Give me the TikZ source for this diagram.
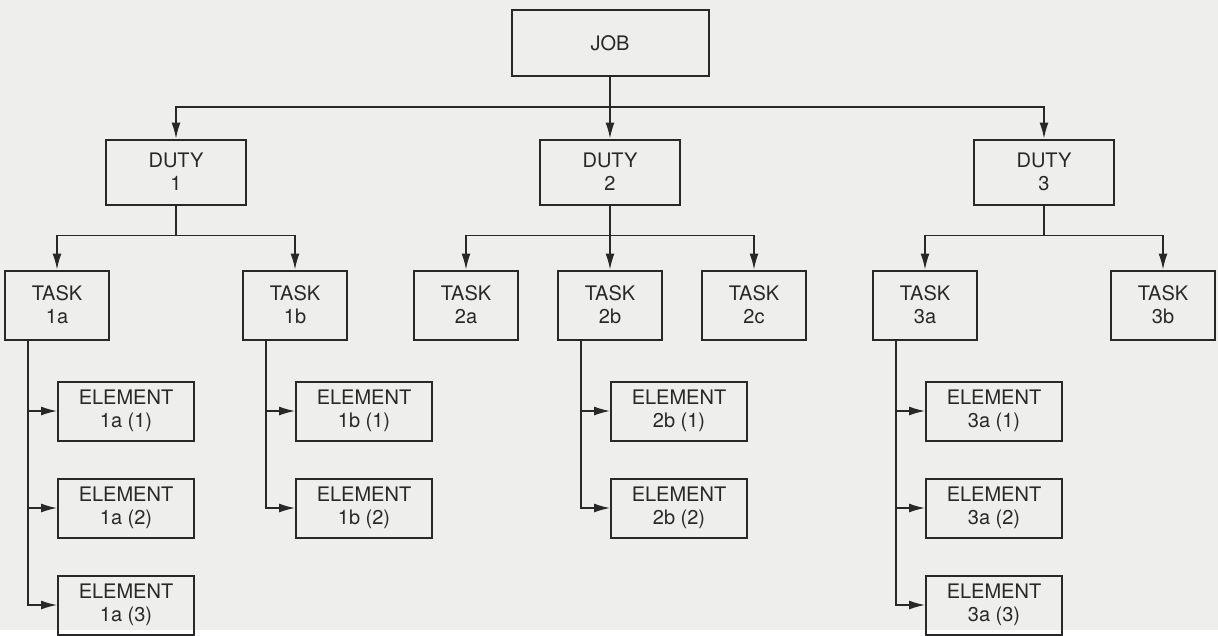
\documentclass[tikz,border=0pt]{standalone}
\usepackage{fontspec}
\setmainfont{TeX Gyre Heros}
\usepackage{xcolor}
\usepackage{tikz}
\usetikzlibrary{positioning,arrows.meta}

\definecolor{paper}{RGB}{238,238,236}
\definecolor{ink}{RGB}{40,40,40}

\begin{document}
\begin{tikzpicture}[
    x=1pt, y=1pt,
    every node/.style={draw=ink, line width=2pt, align=center, text=ink, inner sep=0pt, font=\fontsize{20}{23}\selectfont},
    jobbox/.style={minimum width=197pt, minimum height=66pt},
    dutybox/.style={minimum width=140pt, minimum height=65pt},
    taskbox/.style={minimum width=104pt, minimum height=69pt},
    elementbox/.style={minimum width=136pt, minimum height=59pt},
    link/.style={draw=ink, line width=1.4pt, -{Latex[length=16pt, width=9pt]}},
    edge from parent/.style={link},
    edge from parent path={(\tikzparentnode.south) -- ++(0,-30) -| (\tikzchildnode.north)},
    level 1/.style={level distance=129pt, sibling distance=434pt},
    level 2/.style={level distance=133pt, sibling distance=238pt}
]
\fill[paper] (0,0) rectangle (1218,-630);

% job -> duties -> tasks
\node[jobbox] (job) at (610,-43) {JOB}
    child { node[dutybox] (d1) {DUTY\\1}
        child { node[taskbox] (t1a) {TASK\\1a} }
        child { node[taskbox] (t1b) {TASK\\1b} }
    }
    child { node[dutybox] (d2) {DUTY\\2}
        child[sibling distance=144pt] { node[taskbox] (t2a) {TASK\\2a} }
        child[sibling distance=144pt] { node[taskbox] (t2b) {TASK\\2b} }
        child[sibling distance=144pt] { node[taskbox] (t2c) {TASK\\2c} }
    }
    child { node[dutybox] (d3) {DUTY\\3}
        child { node[taskbox] (t3a) {TASK\\3a} }
        child { node[taskbox] (t3b) {TASK\\3b} }
    };

% elements
\node[elementbox, anchor=north west] (e1a1) at ([yshift=-40pt]t1a.south) {ELEMENT\\1a (1)};
\node[elementbox, below=36pt of e1a1] (e1a2) {ELEMENT\\1a (2)};
\node[elementbox, below=36pt of e1a2] (e1a3) {ELEMENT\\1a (3)};

\node[elementbox, anchor=north west] (e1b1) at ([yshift=-40pt]t1b.south) {ELEMENT\\1b (1)};
\node[elementbox, below=36pt of e1b1] (e1b2) {ELEMENT\\1b (2)};

\node[elementbox, anchor=north west] (e2b1) at ([yshift=-40pt]t2b.south) {ELEMENT\\2b (1)};
\node[elementbox, below=36pt of e2b1] (e2b2) {ELEMENT\\2b (2)};

\node[elementbox, anchor=north west] (e3a1) at ([yshift=-40pt]t3a.south) {ELEMENT\\3a (1)};
\node[elementbox, below=36pt of e3a1] (e3a2) {ELEMENT\\3a (2)};
\node[elementbox, below=36pt of e3a2] (e3a3) {ELEMENT\\3a (3)};

\foreach \t/\e in {t1a/e1a1, t1a/e1a2, t1a/e1a3, t1b/e1b1, t1b/e1b2,
                   t2b/e2b1, t2b/e2b2, t3a/e3a1, t3a/e3a2, t3a/e3a3}
    \draw[link] ([xshift=-29pt]\t.south) |- (\e.west);
\end{tikzpicture}
\end{document}
